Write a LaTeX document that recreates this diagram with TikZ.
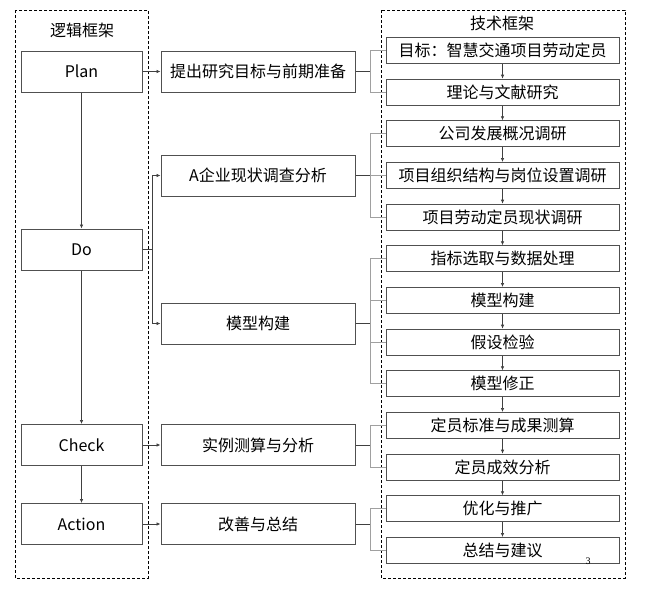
\documentclass[tikz,border=0pt]{standalone}
\usepackage{fontspec}
\setmainfont{Noto Sans CJK SC}
\newfontfamily\serifnum{Liberation Serif}
\usetikzlibrary{arrows.meta}
\definecolor{boxline}{HTML}{505050}
\definecolor{stubline}{HTML}{404040}
\definecolor{branchline}{HTML}{A0A0A0}
\tikzset{
  lbox/.style={draw=boxline, line width=1pt, minimum width=121pt, minimum height=41pt, inner sep=0pt, font=\fontsize{16}{19}\selectfont},
  mbox/.style={draw=boxline, line width=1pt, minimum width=194pt, minimum height=41pt, inner sep=0pt, font=\fontsize{16}{19}\selectfont},
  rbox/.style={draw=boxline, line width=1pt, minimum width=233pt, minimum height=26pt, inner sep=0pt, font=\fontsize{16}{19}\selectfont},
  frame/.style={draw=black, dashed, line width=0.7pt, dash pattern=on 3pt off 2pt},
  title/.style={font=\fontsize{16}{19}\selectfont, inner sep=0pt},
  arr/.style={draw=stubline, line width=0.7pt, -{Latex[length=4pt,width=3.5pt]}},
  stub/.style={draw=stubline, line width=0.8pt},
  branch/.style={draw=branchline, line width=0.8pt},
}
\begin{document}
\begin{tikzpicture}[x=1pt,y=-1pt]
\useasboundingbox (0,0) rectangle (645,592);
% frames
\draw[frame] (15,10) rectangle (148,578);
\draw[frame] (381,10) rectangle (625,578);
\node[title] (t1) at (82,30) {逻辑框架};
\node[title] (t2) at (502,23) {技术框架};
% left column
\node[lbox] (plan) at (81.5,71.5) {Plan};
\node[lbox] (do) at (81.5,249.5) {Do};
\node[lbox] (check) at (81.5,445) {Check};
\node[lbox] (action) at (81.5,524) {Action};
% middle column
\node[mbox] (m1) at (258,71.5) {提出研究目标与前期准备};
\node[mbox] (m2) at (258,175.5) {A企业现状调查分析};
\node[mbox] (m3) at (258,323.5) {模型构建};
\node[mbox] (m4) at (258,445) {实例测算与分析};
\node[mbox] (m5) at (258,524) {改善与总结};
% right column
\node[rbox] (r1) at (502.5,50.5) {目标：智慧交通项目劳动定员};
\node[rbox] (r2) at (502.5,92.2) {理论与文献研究};
\node[rbox] (r3) at (502.5,133.8) {公司发展概况调研};
\node[rbox] (r4) at (502.5,175.5) {项目组织结构与岗位设置调研};
\node[rbox] (r5) at (502.5,217.2) {项目劳动定员现状调研};
\node[rbox] (r6) at (502.5,258.8) {指标选取与数据处理};
\node[rbox] (r7) at (502.5,300.5) {模型构建};
\node[rbox] (r8) at (502.5,342.2) {假设检验};
\node[rbox] (r9) at (502.5,383.8) {模型修正};
\node[rbox] (r10) at (502.5,425.5) {定员标准与成果测算};
\node[rbox] (r11) at (502.5,467.2) {定员成效分析};
\node[rbox] (r12) at (502.5,508.8) {优化与推广};
\node[rbox] (r13) at (502.5,550.5) {总结与建议};
\node[font=\serifnum\fontsize{10}{12}\selectfont, inner sep=0pt] (pg) at (588,561) {3};
% left vertical arrows
\draw[arr] (plan.south) -- (do.north);
\draw[arr] (do.south) -- (check.north);
\draw[arr] (check.south) -- (action.north);
% left to middle
\draw[arr] (plan.east) -- (m1.west);
\draw[stub] (do.east) -- ++(10,0) coordinate (dj);
\draw[arr] (dj) |- (m2.west);
\draw[arr] (dj) |- (m3.west);
\draw[arr] (check.east) -- (m4.west);
\draw[arr] (action.east) -- (m5.west);
% brackets
\draw[stub] (m1.east) -- ++(15,0) coordinate (b1);
\draw[branch] (b1) |- (r1.west);
\draw[branch] (b1) |- (r2.west);
\draw[stub] (m2.east) -- ++(15,0) coordinate (b2);
\draw[branch] (b2) |- (r3.west);
\draw[branch] (b2) |- (r4.west);
\draw[branch] (b2) |- (r5.west);
\draw[stub] (m3.east) -- ++(15,0) coordinate (b3);
\draw[branch] (b3) |- (r6.west);
\draw[branch] (b3) |- (r7.west);
\draw[branch] (b3) |- (r8.west);
\draw[branch] (b3) |- (r9.west);
\draw[stub] (m4.east) -- ++(15,0) coordinate (b4);
\draw[branch] (b4) |- (r10.west);
\draw[branch] (b4) |- (r11.west);
\draw[stub] (m5.east) -- ++(15,0) coordinate (b5);
\draw[branch] (b5) |- (r12.west);
\draw[branch] (b5) |- (r13.west);
% right chain
\foreach \a/\b in {r1/r2,r2/r3,r3/r4,r4/r5,r5/r6,r6/r7,r7/r8,r8/r9,r9/r10,r10/r11,r11/r12,r12/r13}
  \draw[arr] (\a.south) -- (\b.north);
\end{tikzpicture}
\end{document}
